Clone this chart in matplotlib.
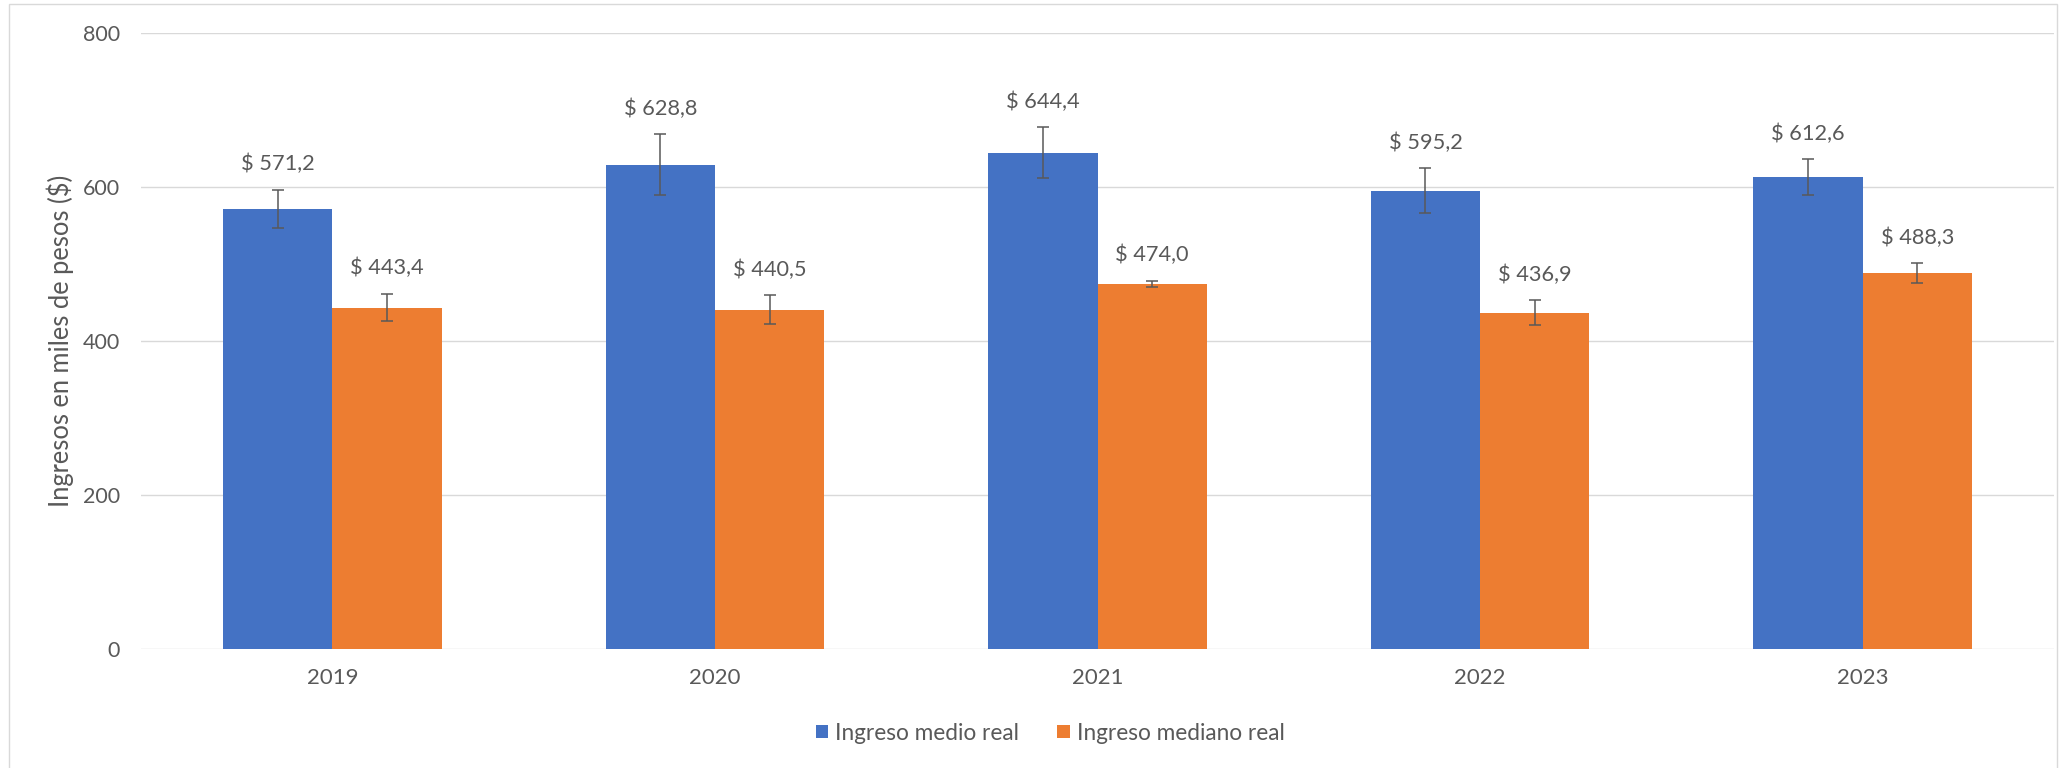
import numpy as np
import matplotlib
matplotlib.use("Agg")
import matplotlib.pyplot as plt
from matplotlib.patches import Rectangle

years = ["2019", "2020", "2021", "2022", "2023"]
ingreso_medio = [571.2, 628.8, 644.4, 595.2, 612.6]
ingreso_mediano = [443.4, 440.5, 474.0, 436.9, 488.3]
err_medio = [25.0, 39.5, 33.0, 29.0, 23.6]
err_mediano = [18.0, 19.0, 4.3, 16.0, 12.5]
series_names = ["Ingreso medio real", "Ingreso mediano real"]

blue = "#4472C4"
orange = "#ED7D31"
txt = "#595959"
grid = "#D9D9D9"

plt.rcParams["font.family"] = ["Lato", "DejaVu Sans"]

W, H = 2063, 768
fig = plt.figure(figsize=(W / 100, H / 100), dpi=100)
ax = fig.add_axes([141 / W, 119 / H, (2054 - 141) / W, 616 / H])

x = np.arange(len(years))
w = 0.2857
ekw = dict(ecolor=txt, elinewidth=1.1, capsize=4.5, capthick=1.1)
ax.bar(x - w / 2, ingreso_medio, w, color=blue, label=series_names[0],
       yerr=err_medio, error_kw=ekw, zorder=2)
ax.bar(x + w / 2, ingreso_mediano, w, color=orange, label=series_names[1],
       yerr=err_mediano, error_kw=ekw, zorder=2)

def fmt(v):
    return "$ " + f"{v:.1f}".replace(".", ",")

for xs, vals, errs in [(x - w / 2, ingreso_medio, err_medio),
                       (x + w / 2, ingreso_mediano, err_mediano)]:
    for xi, v, e in zip(xs, vals, errs):
        ax.annotate(fmt(v), (xi, v + e), xytext=(0, 18.5), textcoords="offset points",
                    ha="center", va="center", fontsize=15.7, color=txt)

ax.set_xlim(-0.5, len(years) - 0.5)
ax.set_ylim(0, 800)
ax.set_yticks([0, 200, 400, 600, 800])
ax.set_xticks(x)
ax.set_xticklabels(years)
ax.grid(axis="y", color=grid, linewidth=1.0, zorder=0)
ax.set_axisbelow(True)
for s in ax.spines.values():
    s.set_visible(False)
ax.tick_params(axis="x", length=0, labelsize=16, colors=txt, pad=14)
ax.tick_params(axis="y", length=0, labelsize=15.5, colors=txt, pad=15)
ax.set_ylabel("Ingresos en miles de pesos ($)", fontsize=18.4, color=txt,
              va="center", ha="center")
ax.yaxis.set_label_coords(-81 / (2054 - 141), 0.5)

fig.legend(loc="center", bbox_to_anchor=(1050 / W, 1 - 733 / H), ncol=2, frameon=False,
           fontsize=16.3, labelcolor=txt, handlelength=0.55, handleheight=0.55,
           handletextpad=0.3, columnspacing=1.7)

# outer chart border
fig.patches.append(Rectangle((9 / W, -0.05), (2057 - 9) / W, 1.05 - 4 / H,
                             transform=fig.transFigure, fill=False,
                             edgecolor=grid, linewidth=1.0))

fig.savefig("out.png", dpi=100)
